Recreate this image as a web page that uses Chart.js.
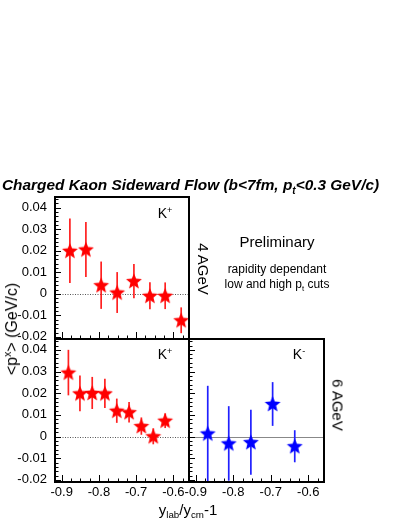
<!DOCTYPE html>
<html>
<head>
<meta charset="utf-8">
<script src="https://cdn.jsdelivr.net/npm/chart.js@4/dist/chart.umd.min.js"></script>
<style>
  html, body { margin: 0; padding: 0; background: #fff; }
  #wrap { position: relative; width: 409px; height: 529px; overflow: hidden; background: #fff;
          font-family: 'Liberation Sans', Arial, Helvetica, sans-serif; color: #000; }
  canvas { position: absolute; }
  .t { position: absolute; white-space: nowrap; line-height: 1; transform: translate(-50%, -50%); z-index: 5; font-weight: normal; }
  .t sub, .t sup { font-size: 0.65em; line-height: 0; }
  .t sub { vertical-align: -0.35em; }
  .t sup { vertical-align: 0.55em; }
</style>
</head>
<body>
<div id="wrap">
  <canvas id="cTop" width="209" height="182" style="left:0px; top:177px;"></canvas>
  <canvas id="cBL" width="209" height="193" style="left:0px; top:319px;"></canvas>
  <canvas id="cBR" width="175" height="193" style="left:169px; top:319px;"></canvas>

  <div class="t" style="left:0; top:185px; transform: translate(0,-50%); font-weight:bold; font-style:italic; font-size:15.4px; padding-left:2px;">Charged Kaon Sideward Flow (b&lt;7fm, p<sub>t</sub>&lt;0.3 GeV/c)</div>
  <div class="t" style="left:165px; top:213px; font-size:14px;">K<sup>+</sup></div>
  <div class="t" style="left:165px; top:354px; font-size:14px;">K<sup>+</sup></div>
  <div class="t" style="left:299px; top:354px; font-size:14px;">K<sup>-</sup></div>
  <div class="t" style="left:203px; top:269px; font-size:15px; transform: translate(-50%,-50%) rotate(90deg);">4 AGeV</div>
  <div class="t" style="left:338px; top:405px; font-size:15px; transform: translate(-50%,-50%) rotate(90deg);">6 AGeV</div>
  <div class="t" style="left:277px; top:241px; font-size:15px;">Preliminary</div>
  <div class="t" style="left:277px; top:269px; font-size:12px;">rapidity dependant</div>
  <div class="t" style="left:277px; top:284px; font-size:12px;">low and high p<sub>t</sub> cuts</div>
  <div class="t" style="left:12px; top:329px; font-size:16px; transform: translate(-50%,-50%) rotate(-90deg);">&lt;p<sup>x</sup>&gt; (GeV/c)</div>
  <div class="t" style="left:188px; top:509px; font-size:15px;">y<sub>lab</sub>/y<sub>cm</sub>-1</div>
</div>
<script>
// ---------- data ----------
const xTicks = [-0.9, -0.8, -0.7, -0.6];
const xTickLabels = ['-0.9', '-0.8', '-0.7', '-0.6'];
const yTicks = [-0.02, -0.01, 0, 0.01, 0.02, 0.03, 0.04];
const yTickLabels = ['-0.02', '-0.01', '0', '0.01', '0.02', '0.03', '0.04'];

// 4 AGeV, K+
const kp4X   = [-0.878, -0.835, -0.794, -0.751, -0.706, -0.663, -0.622, -0.579];
const kp4Y   = [0.0200, 0.0206, 0.0040, 0.0006, 0.0059, -0.0009, -0.0009, -0.0123];
const kp4Err = [0.0150, 0.0128, 0.0110, 0.0095, 0.0080, 0.0063, 0.0062, 0.0060];

// 6 AGeV, K+
const kp6X   = [-0.882, -0.851, -0.818, -0.784, -0.752, -0.719, -0.686, -0.654, -0.622];
const kp6Y   = [0.0295, 0.0199, 0.0201, 0.0199, 0.0119, 0.0112, 0.0048, 0.0001, 0.0073];
const kp6Err = [0.0105, 0.0083, 0.0074, 0.0067, 0.0056, 0.0047, 0.0040, 0.0037, 0.0034];

// 6 AGeV, K-
const km6X   = [-0.868, -0.812, -0.753, -0.695, -0.636];
const km6Y   = [0.0014, -0.0032, -0.0026, 0.0150, -0.0045];
const km6Err = [0.0220, 0.0172, 0.0150, 0.0101, 0.0074];

// ---------- styling ----------
const X_MIN = -0.918, X_MAX = -0.558;
const Y_MIN = -0.021, Y_MAX = 0.045;
Chart.defaults.font.family = "'Liberation Sans', Arial, Helvetica, sans-serif";
Chart.defaults.color = '#000';

function makeStar(color) {
  const c = document.createElement('canvas');
  c.width = 18; c.height = 18;
  const g = c.getContext('2d');
  g.fillStyle = color;
  g.beginPath();
  for (let k = 0; k < 10; k++) {
    const r = (k % 2) ? 3.7 : 8.4;
    const a = -Math.PI / 2 + k * Math.PI / 5;
    g.lineTo(9 + r * Math.cos(a), 9.6 + r * Math.sin(a));
  }
  g.closePath();
  g.fill();
  return c;
}
const redStar = makeStar('#ff0000');
const blueStar = makeStar('#0000ff');

const panelPlugin = {
  id: 'panel',
  beforeDatasetsDraw(chart, args, opts) {
    const { ctx, chartArea: a } = chart;
    const x = chart.scales.x, y = chart.scales.y;
    ctx.save();
    ctx.strokeStyle = opts.zeroColor;
    ctx.lineWidth = 1;
    ctx.setLineDash(opts.zeroDash);
    const y0 = Math.round(y.getPixelForValue(0)) + 0.5;
    ctx.beginPath(); ctx.moveTo(a.left, y0); ctx.lineTo(a.right, y0); ctx.stroke();
    ctx.setLineDash([]);
    ctx.beginPath(); ctx.rect(a.left, a.top, a.right - a.left, a.bottom - a.top); ctx.clip();
    chart.data.datasets.forEach(ds => {
      ctx.strokeStyle = ds.errColor;
      ctx.lineWidth = 1.7;
      ds.data.forEach((p, i) => {
        const px = x.getPixelForValue(p.x);
        ctx.beginPath();
        ctx.moveTo(px, y.getPixelForValue(p.y - ds.errors[i]));
        ctx.lineTo(px, y.getPixelForValue(p.y + ds.errors[i]));
        ctx.stroke();
      });
    });
    ctx.restore();
  },
  afterDraw(chart) {
    const { ctx, chartArea: a } = chart;
    const x = chart.scales.x, y = chart.scales.y;
    ctx.save();
    ctx.strokeStyle = '#000';
    ctx.lineWidth = 1;
    const yStepMinor = 0.002, yStepMajor = 0.01;
    for (let k = Math.ceil(Y_MIN / yStepMinor - 1e-6); k * yStepMinor <= Y_MAX + 1e-9; k++) {
      const v = k * yStepMinor;
      const major = Math.abs(Math.round(v / yStepMajor) * yStepMajor - v) < 1e-9;
      const py = Math.round(y.getPixelForValue(v)) + 0.5;
      ctx.beginPath(); ctx.moveTo(a.left, py); ctx.lineTo(a.left + (major ? 6 : 3.5), py); ctx.stroke();
    }
    const xStepMinor = 0.025, xStepMajor = 0.1;
    for (let k = Math.ceil(X_MIN / xStepMinor - 1e-6); k * xStepMinor <= X_MAX + 1e-9; k++) {
      const v = k * xStepMinor;
      const major = Math.abs(Math.round(v / xStepMajor) * xStepMajor - v) < 1e-9;
      const px = Math.round(x.getPixelForValue(v)) + 0.5;
      ctx.beginPath(); ctx.moveTo(px, a.bottom); ctx.lineTo(px, a.bottom - (major ? 7 : 3.5)); ctx.stroke();
    }
    ctx.lineWidth = 2;
    ctx.strokeRect(Math.round(a.left), Math.round(a.top), Math.round(a.right - a.left), Math.round(a.bottom - a.top));
    ctx.restore();
  }
};

function pts(xs, ys) { return xs.map((v, i) => ({ x: v, y: ys[i] })); }

function makeChart(id, cfg) {
  const xScale = {
    type: 'linear', min: X_MIN, max: X_MAX,
    display: cfg.showX,
    grid: { display: false, drawTicks: false },
    border: { display: false },
    afterBuildTicks: s => { s.ticks = xTicks.map(v => ({ value: v })); },
    afterFit: s => { s.height = cfg.showX ? 30 : 0; },
    ticks: {
      autoSkip: false, maxRotation: 0, padding: 3,
      font: { size: 13 }, color: '#000',
      callback: (val) => { const i = xTicks.findIndex(t => Math.abs(t - val) < 1e-9); return i >= 0 ? xTickLabels[i] : ''; }
    }
  };
  const yScale = {
    type: 'linear', min: Y_MIN, max: Y_MAX,
    display: cfg.showY,
    grid: { display: false, drawTicks: false },
    border: { display: false },
    afterBuildTicks: s => { s.ticks = yTicks.map(v => ({ value: v })); },
    afterFit: s => { s.width = cfg.showY ? 55 : 0; },
    ticks: {
      padding: 8, font: { size: 13 }, color: '#000',
      callback: (val) => { const i = yTicks.findIndex(t => Math.abs(t - val) < 1e-9); return i >= 0 ? yTickLabels[i] : ''; }
    }
  };
  return new Chart(document.getElementById(id), {
    type: 'scatter',
    data: {
      datasets: [{
        data: pts(cfg.xs, cfg.ys),
        errors: cfg.errs,
        errColor: cfg.errColor,
        pointStyle: cfg.star,
        pointRadius: 8,
        showLine: false
      }]
    },
    options: {
      responsive: false,
      animation: false,
      devicePixelRatio: 1,
      layout: { padding: cfg.padding },
      plugins: {
        legend: { display: false },
        tooltip: { enabled: false },
        title: { display: false },
        panel: { zeroColor: cfg.zeroColor, zeroDash: cfg.zeroDash }
      },
      scales: { x: xScale, y: yScale }
    },
    plugins: [panelPlugin]
  });
}

makeChart('cTop', {
  xs: kp4X, ys: kp4Y, errs: kp4Err, errColor: '#ff2020', star: redStar,
  showX: false, showY: true,
  padding: { top: 20, bottom: 20, left: 0, right: 20 },
  zeroColor: '#555', zeroDash: [1, 1.5]
});
makeChart('cBL', {
  xs: kp6X, ys: kp6Y, errs: kp6Err, errColor: '#ff2020', star: redStar,
  showX: true, showY: true,
  padding: { top: 20, bottom: 0, left: 0, right: 20 },
  zeroColor: '#555', zeroDash: [1, 1.5]
});
makeChart('cBR', {
  xs: km6X, ys: km6Y, errs: km6Err, errColor: '#2020ff', star: blueStar,
  showX: true, showY: false,
  padding: { top: 20, bottom: 0, left: 20, right: 20 },
  zeroColor: '#888', zeroDash: []
});
</script>
</body>
</html>
